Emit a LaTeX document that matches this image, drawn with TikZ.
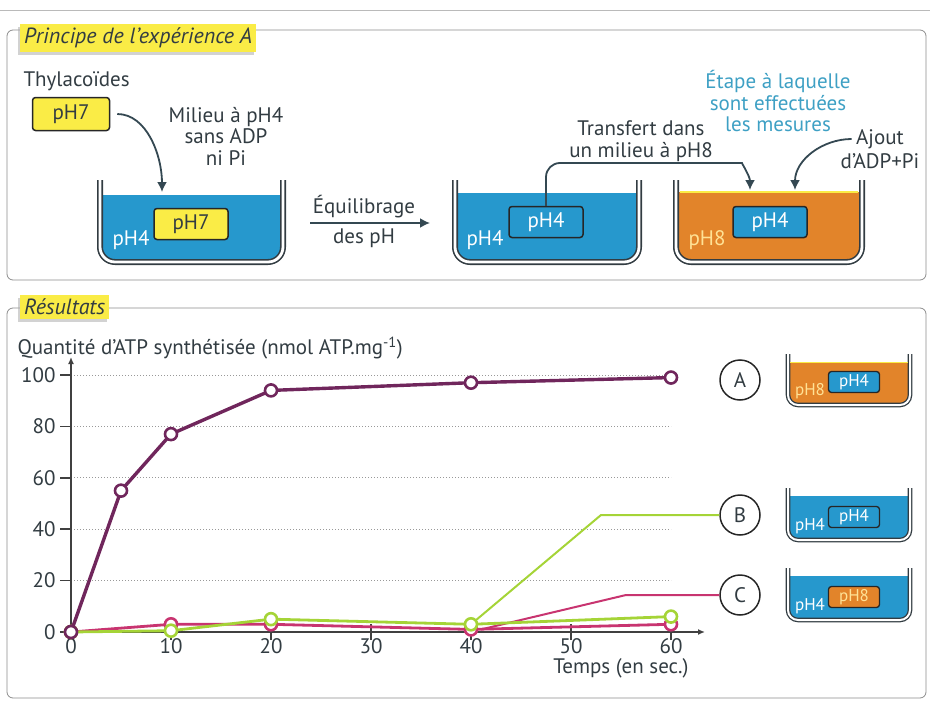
\documentclass[tikz,border=0pt]{standalone}
\usepackage{fontspec}
\setmainfont{PT Sans}
\usetikzlibrary{arrows.meta,positioning,shadows}
\definecolor{liqblue}{RGB}{38,152,205}
\definecolor{liqorange}{RGB}{226,132,42}
\definecolor{tagyellow}{RGB}{250,236,70}
\definecolor{inktext}{RGB}{50,60,66}
\definecolor{arrowgray}{RGB}{52,72,82}
\definecolor{stepteal}{RGB}{62,160,196}
\definecolor{curveA}{RGB}{112,38,92}
\definecolor{curveB}{RGB}{165,212,55}
\definecolor{curveC}{RGB}{200,52,112}
\definecolor{panelgray}{RGB}{140,140,140}
\definecolor{ph8light}{RGB}{255,226,150}

% beaker: left, right, top, liquid level, bottom, liquid colour, radius, wall style
\newcommand{\bac}[8]{%
  \begin{scope}
    \clip (#1-10,#4) rectangle (#2+10,#5+10);
    \fill[#6, rounded corners=#7] (#1,#3) -- (#1,#5) -- (#2,#5) -- (#2,#3);
  \end{scope}
  \draw[#8, rounded corners=#7] (#1,#3) -- (#1,#5) -- (#2,#5) -- (#2,#3);}

\begin{document}
\begin{tikzpicture}[x=1pt, y=-1pt, font=\fontsize{21}{21.5}\selectfont, text=inktext,
  >={Latex[length=10pt,width=10pt]},
  wall/.style={draw=inktext, line width=1.6pt, double=white, double distance=2.8pt},
  thin wall/.style={draw=inktext, line width=1.3pt, double=white, double distance=2pt},
  flow/.style={->, draw=arrowgray, line width=1.8pt},
  phbox/.style={draw=black!85, line width=1.5pt, rounded corners=3pt, minimum width=74pt, minimum height=31pt, inner sep=0pt},
  smallbox/.style={phbox, line width=1.3pt, minimum width=51pt, minimum height=21pt, font=\fontsize{17}{18}\selectfont},
  small/.style={font=\fontsize{17}{18}\selectfont},
  tag/.style={fill=tagyellow, font=\fontsize{22}{24}\selectfont\itshape, inner sep=4pt, drop shadow={shadow xshift=-2pt, shadow yshift=-3pt, fill=black!35}},
  panel/.style={draw=panelgray, line width=0.8pt, rounded corners=6pt},
  grid line/.style={draw=gray!80, dotted, line width=1pt},
  axis/.style={draw=gray!50!black, line width=1.5pt},
  marker/.style={circle, fill=white, line width=2.6pt, inner sep=0pt, minimum size=12pt},
  letter/.style={circle, draw=black!85, line width=1.5pt, minimum size=40pt, inner sep=0pt}]
  \useasboundingbox (0,0) rectangle (930,704);
  \draw[panelgray!60, line width=0.6pt] (0,10) -- (930,10);

  % Principe de l'expérience
  \draw[panel] (7,30) rectangle (926,280);
  \node[tag, anchor=west] (principe) at (20,38) {Principe de l'expérience A};
  \node[anchor=west] (thyla) at (20,81) {Thylacoïdes};
  \node[phbox, fill=tagyellow, minimum width=77pt, minimum height=33pt] (thylabox) at (71,114) {pH7};
  \node[align=center] (milieu) at (226,136) {Milieu à pH4\\sans ADP\\ni Pi};

  \bac{100}{283}{180}{195}{262}{liqblue}{15pt}{wall}
  \bac{455}{639}{180}{193}{262}{liqblue}{15pt}{wall}
  \bac{676}{862}{180}{192}{262}{liqorange}{15pt}{wall}
  \draw[tagyellow, line width=1.2pt] (680,192) -- (858,192);

  \node[phbox, fill=tagyellow] (inner1) at (191,224) {pH7};
  \node[text=white] (medium1) at (131,240) {pH4};
  \node[phbox, fill=liqblue, text=white] (inner2) at (546,222) {pH4};
  \node[text=white] (medium2) at (485,240) {pH4};
  \node[phbox, fill=liqblue, text=white] (inner3) at (770,222) {pH4};
  \node[text=ph8light] (medium3) at (707,240) {pH8};

  \node[align=center] (transfert) at (641,141) {Transfert dans\\un milieu à pH8};
  \node[align=center, text=stepteal] (etape) at (778,101) {Étape à laquelle\\sont effectuées\\les mesures};
  \node (ajout) at (880,139) {Ajout};
  \node (adp) at (880,161) {d'ADP+Pi};

  \coordinate (drop1) at (162,192);
  \coordinate (eqs) at (310,223);
  \coordinate (eqe) at (430,223);
  \coordinate (bend3) at (728,163);
  \coordinate (drop3a) at (750,190);
  \coordinate (drop3b) at (795,190);

  \draw[flow, shorten <=7pt] (thylabox.east) to[out=0, in=90] (drop1);
  \draw[flow] (eqs) -- node[above=1pt, pos=0.45]{Équilibrage} node[below=2pt, pos=0.45]{des pH} (eqe);
  \draw[flow, rounded corners=14pt] (inner2.north) |- (bend3) to[out=0, in=90] (drop3a);
  \draw[flow, shorten <=1pt] (ajout.west) to[out=180, in=90] (drop3b);

  % Résultats
  \draw[panel] (7,308) rectangle (926,698);
  \node[tag, anchor=west] (resultats) at (20,307) {Résultats};
  \node[anchor=west] (ytitle) at (14,348) {Quantité d'ATP synthétisée (nmol ATP.mg\textsuperscript{-1})};

  \node[letter] (lblA) at (740,380) {A};
  \node[letter] (lblB) at (740,515) {B};
  \node[letter] (lblC) at (740,595) {C};

  \begin{scope}[shift={(71,632)}, x=10pt, y=2.57pt]
    \foreach \v in {20,40,...,100}
      \draw[grid line] (0,\v) -- (60,\v);
    \foreach \v in {0,20,...,100} {
      \draw[axis] (-1.1,\v) -- (0,\v);
      \node[anchor=east] (ylab\v) at (-1.2,\v) {\v};
    }
    \foreach \t in {10,20,...,60}
      \draw[axis] (\t,-3) -- (\t,3);
    \foreach \t in {0,10,...,60}
      \node[anchor=north] (xlab\t) at (\t,-1.2) {\t};
    \draw[axis, -{Latex[length=7pt,width=6pt]}] (0,-1.5) -- (0,107);
    \draw[axis, -{Latex[length=7pt,width=6pt]}] (-1,0) -- (63.4,0);
    \node (temps) at (55,-14.2) {Temps (en sec.)};

    % courbe C
    \draw[curveC, line width=2pt] (41,1) -- (55.5,0 |- lblC.west) -- (lblC.west);
    \draw[curveC, line width=2.8pt] (0,0) -- (10,3) -- (20,3) -- (40,1) -- (60,3);
    \foreach \px/\py [count=\i] in {0/0,10/3,20/3,40/1,60/3}
      \node[marker, draw=curveC] (mC\i) at (\px,\py) {};
    % courbe B
    \draw[curveB, line width=2pt] (40,3) -- (53,0 |- lblB.west) -- (lblB.west);
    \draw[curveB, line width=2.8pt] (0,0) -- (10,0.5) -- (20,5) -- (40,3) -- (60,6);
    \foreach \px/\py [count=\i] in {0/0,10/0.5,20/5,40/3,60/6}
      \node[marker, draw=curveB] (mB\i) at (\px,\py) {};
    % courbe A
    \draw[curveA, line width=3.4pt] (0,0) -- (5,55) -- (10,77) -- (20,94) -- (40,97) -- (60,99);
    \foreach \px/\py [count=\i] in {0/0,5/55,10/77,20/94,40/97,60/99}
      \node[marker, draw=curveA] (mA\i) at (\px,\py) {};
  \end{scope}

  \bac{788}{910}{354}{362}{405}{liqorange}{10pt}{thin wall}
  \draw[tagyellow, line width=1pt] (790,362) -- (908,362);
  \bac{788}{910}{488}{496}{540}{liqblue}{10pt}{thin wall}
  \bac{788}{910}{568}{576}{620}{liqblue}{10pt}{thin wall}

  \node[smallbox, fill=liqblue, text=white] (innerA) at (854,382) {pH4};
  \node[small, text=ph8light] (mediumA) at (810,391) {pH8};
  \node[smallbox, fill=liqblue, text=white] (innerB) at (854,517) {pH4};
  \node[small, text=white] (mediumB) at (810,526) {pH4};
  \node[smallbox, fill=liqorange, text=ph8light] (innerC) at (854,597) {pH8};
  \node[small, text=white] (mediumC) at (810,606) {pH4};
\end{tikzpicture}
\end{document}
